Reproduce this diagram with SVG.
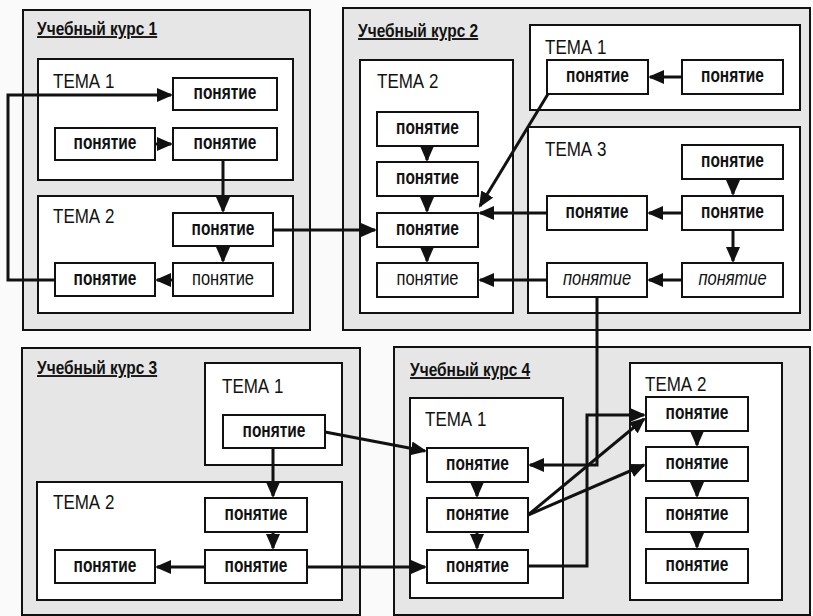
<svg xmlns="http://www.w3.org/2000/svg" width="813" height="616" viewBox="0 0 813 616">
<style>
.course{fill:#e6e6e6;stroke:#111;stroke-width:2}
.tema{fill:#fff;stroke:#111;stroke-width:2}
.node{fill:#fff;stroke:#111;stroke-width:2}
.ct{font-family:"Liberation Sans",Arial,sans-serif;font-size:15.5px;font-weight:bold;fill:#111;text-decoration:underline}
.tt{font-family:"Liberation Sans",Arial,sans-serif;font-size:17px;fill:#111}
.nt{font-family:"Liberation Sans",Arial,sans-serif;font-size:15.5px;font-weight:bold;fill:#111;text-anchor:middle}
.nr{font-family:"Liberation Sans",Arial,sans-serif;font-size:16.5px;fill:#111;text-anchor:middle}
.ni{font-family:"Liberation Sans",Arial,sans-serif;font-size:16.5px;font-style:italic;fill:#111;text-anchor:middle}
.cn{fill:none;stroke:#111;stroke-width:3;marker-end:url(#ah)}
</style>
<defs>
<marker id="ah" viewBox="0 0 16 14" refX="14" refY="7" markerWidth="16" markerHeight="14" orient="auto" markerUnits="userSpaceOnUse">
<path d="M0,0 L16,7 L0,14 z" fill="#111"/>
</marker>
</defs>
<rect width="813" height="616" fill="#fafafa"/>

<!-- Course 1 -->
<g id="course1">
<rect class="course" x="23" y="10" width="287" height="320"/>
<text class="ct" transform="translate(37,35) scale(1,1.2)">Учебный курс 1</text>
</g>
<g id="c1-tema1">
<rect class="tema" x="38" y="59" width="255" height="121"/>
<text class="tt" transform="translate(53,88) scale(1,1.2)">ТЕМА 1</text>
</g>
<g id="c1-t1-n1"><rect class="node" x="173" y="78" width="104" height="32"/><text class="nt" transform="translate(225,99) scale(1,1.25)">понятие</text></g>
<g id="c1-t1-n2"><rect class="node" x="55" y="128" width="100" height="32"/><text class="nt" transform="translate(105,149) scale(1,1.25)">понятие</text></g>
<g id="c1-t1-n3"><rect class="node" x="173" y="128" width="104" height="32"/><text class="nt" transform="translate(225,149) scale(1,1.25)">понятие</text></g>
<g id="c1-tema2">
<rect class="tema" x="38" y="196" width="255" height="117"/>
<text class="tt" transform="translate(53,223) scale(1,1.2)">ТЕМА 2</text>
</g>
<g id="c1-t2-n1"><rect class="node" x="173" y="213" width="100" height="33"/><text class="nt" transform="translate(223,235) scale(1,1.25)">понятие</text></g>
<g id="c1-t2-n2"><rect class="node" x="173" y="263" width="100" height="33"/><text class="nr" transform="translate(223,285) scale(1,1.2)">понятие</text></g>
<g id="c1-t2-n3"><rect class="node" x="55" y="263" width="100" height="33"/><text class="nt" transform="translate(105,285) scale(1,1.25)">понятие</text></g>

<!-- Course 2 -->
<g id="course2">
<rect class="course" x="343" y="8" width="467" height="322"/>
<text class="ct" transform="translate(358,37) scale(1,1.2)">Учебный курс 2</text>
</g>
<g id="c2-tema2">
<rect class="tema" x="360" y="60" width="153" height="253"/>
<text class="tt" transform="translate(377,88) scale(1,1.2)">ТЕМА 2</text>
</g>
<g id="c2-t2-n1"><rect class="node" x="377" y="112" width="101" height="34"/><text class="nt" transform="translate(427.5,134) scale(1,1.25)">понятие</text></g>
<g id="c2-t2-n2"><rect class="node" x="377" y="162" width="101" height="34"/><text class="nt" transform="translate(427.5,184) scale(1,1.25)">понятие</text></g>
<g id="c2-t2-n3"><rect class="node" x="377" y="213" width="101" height="34"/><text class="nt" transform="translate(427.5,235) scale(1,1.25)">понятие</text></g>
<g id="c2-t2-n4"><rect class="node" x="377" y="263" width="101" height="34"/><text class="nr" transform="translate(427.5,285) scale(1,1.2)">понятие</text></g>
<g id="c2-tema1">
<rect class="tema" x="530" y="25" width="270" height="85"/>
<text class="tt" transform="translate(545,54) scale(1,1.2)">ТЕМА 1</text>
</g>
<g id="c2-t1-n1"><rect class="node" x="547" y="60" width="101" height="34"/><text class="nt" transform="translate(597.5,82) scale(1,1.25)">понятие</text></g>
<g id="c2-t1-n2"><rect class="node" x="682" y="60" width="101" height="34"/><text class="nt" transform="translate(732.5,82) scale(1,1.25)">понятие</text></g>
<g id="c2-tema3">
<rect class="tema" x="528" y="127" width="272" height="186"/>
<text class="tt" transform="translate(545,156) scale(1,1.2)">ТЕМА 3</text>
</g>
<g id="c2-t3-n1"><rect class="node" x="682" y="145" width="101" height="34"/><text class="nt" transform="translate(732.5,167) scale(1,1.25)">понятие</text></g>
<g id="c2-t3-n2"><rect class="node" x="547" y="196" width="100" height="34"/><text class="nt" transform="translate(597,218) scale(1,1.25)">понятие</text></g>
<g id="c2-t3-n3"><rect class="node" x="682" y="196" width="101" height="34"/><text class="nt" transform="translate(732.5,218) scale(1,1.25)">понятие</text></g>
<g id="c2-t3-n4"><rect class="node" x="547" y="263" width="100" height="34"/><text class="ni" transform="translate(597,285) scale(1,1.2)">понятие</text></g>
<g id="c2-t3-n5"><rect class="node" x="682" y="263" width="101" height="34"/><text class="ni" transform="translate(732.5,285) scale(1,1.2)">понятие</text></g>

<!-- Course 3 -->
<g id="course3">
<rect class="course" x="22" y="348" width="338" height="267"/>
<text class="ct" transform="translate(37,374) scale(1,1.2)">Учебный курс 3</text>
</g>
<g id="c3-tema1">
<rect class="tema" x="205" y="363" width="137" height="102"/>
<text class="tt" transform="translate(222,393) scale(1,1.2)">ТЕМА 1</text>
</g>
<g id="c3-t1-n1"><rect class="node" x="223" y="415" width="102" height="33"/><text class="nt" transform="translate(274,437) scale(1,1.25)">понятие</text></g>
<g id="c3-tema2">
<rect class="tema" x="37" y="482" width="305" height="118"/>
<text class="tt" transform="translate(53,509) scale(1,1.2)">ТЕМА 2</text>
</g>
<g id="c3-t2-n1"><rect class="node" x="205" y="498" width="102" height="34"/><text class="nt" transform="translate(256,520) scale(1,1.25)">понятие</text></g>
<g id="c3-t2-n2"><rect class="node" x="205" y="550" width="102" height="33"/><text class="nt" transform="translate(256,572) scale(1,1.25)">понятие</text></g>
<g id="c3-t2-n3"><rect class="node" x="55" y="550" width="100" height="33"/><text class="nt" transform="translate(105,572) scale(1,1.25)">понятие</text></g>

<!-- Course 4 -->
<g id="course4">
<rect class="course" x="394" y="347" width="416" height="268"/>
<text class="ct" transform="translate(410,376) scale(1,1.2)">Учебный курс 4</text>
</g>
<g id="c4-tema1">
<rect class="tema" x="410" y="398" width="153" height="200"/>
<text class="tt" transform="translate(425,426) scale(1,1.2)">ТЕМА 1</text>
</g>
<g id="c4-t1-n1"><rect class="node" x="427" y="448" width="101" height="34"/><text class="nt" transform="translate(477.5,470) scale(1,1.25)">понятие</text></g>
<g id="c4-t1-n2"><rect class="node" x="427" y="498" width="101" height="34"/><text class="nt" transform="translate(477.5,520) scale(1,1.25)">понятие</text></g>
<g id="c4-t1-n3"><rect class="node" x="427" y="550" width="101" height="33"/><text class="nt" transform="translate(477.5,572) scale(1,1.25)">понятие</text></g>
<g id="c4-tema2">
<rect class="tema" x="630" y="363" width="152" height="237"/>
<text class="tt" transform="translate(645,391) scale(1,1.2)">ТЕМА 2</text>
</g>
<g id="c4-t2-n1"><rect class="node" x="646" y="397" width="102" height="34"/><text class="nt" transform="translate(697,419) scale(1,1.25)">понятие</text></g>
<g id="c4-t2-n2"><rect class="node" x="646" y="447" width="102" height="34"/><text class="nt" transform="translate(697,469) scale(1,1.25)">понятие</text></g>
<g id="c4-t2-n3"><rect class="node" x="646" y="498" width="102" height="34"/><text class="nt" transform="translate(697,520) scale(1,1.25)">понятие</text></g>
<g id="c4-t2-n4"><rect class="node" x="646" y="549" width="102" height="34"/><text class="nt" transform="translate(697,571) scale(1,1.25)">понятие</text></g>

<!-- Connectors -->
<g id="connectors">
<path class="cn" d="M155,144 H171"/>
<path class="cn" d="M223,160 V211"/>
<path class="cn" d="M223,246 V261"/>
<path class="cn" d="M173,280 H157"/>
<path class="cn" d="M55,280 H8 V95 H171"/>
<path class="cn" d="M273,230 H375"/>
<path class="cn" d="M427,146 V160"/>
<path class="cn" d="M427,196 V211"/>
<path class="cn" d="M427,247 V261"/>
<path class="cn" d="M682,77 H650"/>
<path class="cn" d="M548,94 L480,206"/>
<path class="cn" d="M547,213 H480"/>
<path class="cn" d="M733,179 V194"/>
<path class="cn" d="M682,213 H649"/>
<path class="cn" d="M733,230 V261"/>
<path class="cn" d="M682,280 H649"/>
<path class="cn" d="M547,280 H480"/>
<path class="cn" d="M597,297 V465 H530"/>
<path class="cn" d="M273,448 V496"/>
<path class="cn" d="M273,532 V548"/>
<path class="cn" d="M205,567 H157"/>
<path class="cn" d="M325,432 L425,451"/>
<path class="cn" d="M307,567 H425"/>
<path class="cn" d="M477,482 V496"/>
<path class="cn" d="M477,532 V548"/>
<path class="cn" d="M697,431 V445"/>
<path class="cn" d="M697,481 V496"/>
<path class="cn" d="M697,532 V547"/>
<path class="cn" d="M528,566 H587 V415 H644"/>
<path class="cn" d="M528,515 L644,419"/>
<path class="cn" d="M528,515 L644,465"/>
</g>
</svg>
